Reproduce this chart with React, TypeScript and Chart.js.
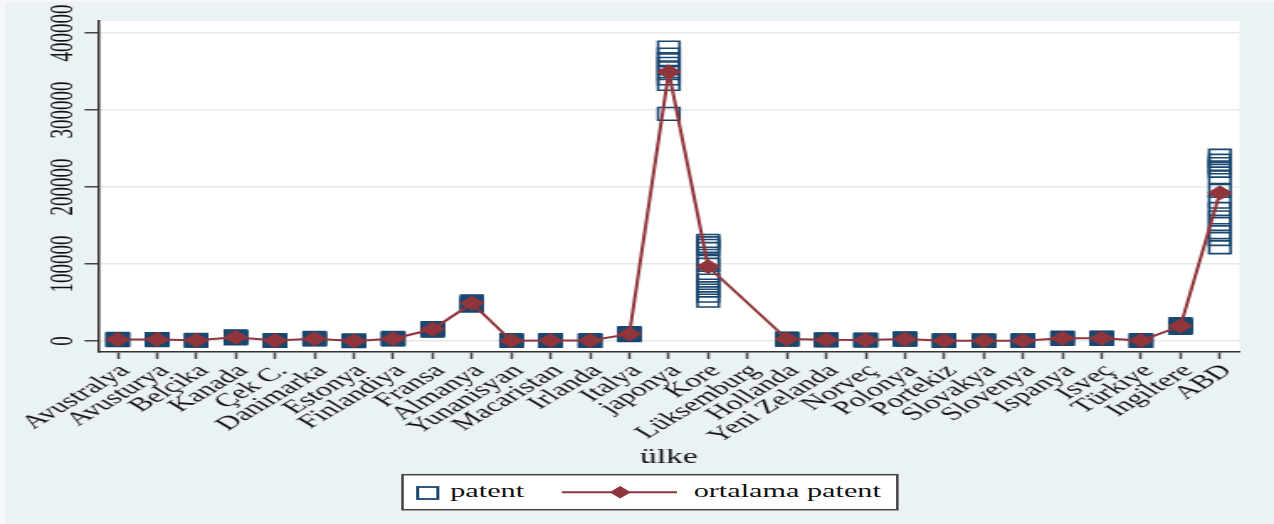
import React, { useEffect, useRef } from 'react';
import { Chart, registerables } from 'chart.js';

Chart.register(...registerables);

// ---------------- data ----------------
const countries = [
  'Avustralya', 'Avusturya', 'Belçika', 'Kanada', 'Çek C.', 'Danimarka', 'Estonya',
  'Finlandiya', 'Fransa', 'Almanya', 'Yunanisyan', 'Macaristan', 'Irlanda', 'Italya',
  'japonya', 'Kore', 'Lüksemburg', 'Hollanda', 'Yeni Zelanda', 'Norveç', 'Polonya',
  'Portekiz', 'Slovakya', 'Slovenya', 'Ispanya', 'Isveç', 'Türkiye', 'Ingiltere', 'ABD',
];

const meanPatent: (number | null)[] = [
  2000, 2000, 1000, 4800, 500, 3000, 100,
  3000, 15200, 49000, 400, 600, 500, 9000,
  349500, 96500, null, 2500, 1500, 1200, 2500,
  300, 200, 300, 3500, 3500, 500, 19500, 192500,
];

const patentValues: number[][] = [
  [1100, 1500, 1900, 2300, 2700],
  [1300, 1700, 2000, 2300, 2500],
  [600, 800, 1000, 1200, 1400],
  [3500, 4200, 4800, 5300, 6100],
  [200, 300, 500, 600, 800],
  [2100, 2600, 3000, 3400, 3900],
  [30, 60, 100, 140, 170],
  [2000, 2600, 3100, 3500, 4000],
  [13500, 14200, 15000, 15900, 16800],
  [46000, 47500, 48800, 50200, 51500],
  [150, 250, 400, 500, 650],
  [300, 450, 600, 700, 850],
  [250, 400, 500, 600, 750],
  [7800, 8400, 9000, 9500, 10200],
  [381000, 372000, 366000, 360000, 354000, 348000, 341000, 334000, 295000],
  [130000, 127000, 123500, 119500, 104500, 99000, 85000, 78500, 72000, 65500, 59000, 52500],
  [],
  [1800, 2200, 2500, 2800, 3100],
  [900, 1200, 1500, 1800, 2100],
  [700, 1000, 1200, 1400, 1700],
  [1700, 2100, 2500, 2900, 3300],
  [100, 200, 300, 400, 500],
  [80, 150, 200, 260, 330],
  [150, 220, 300, 380, 450],
  [2800, 3200, 3500, 3800, 4200],
  [2700, 3100, 3500, 3900, 4300],
  [200, 350, 500, 650, 800],
  [17000, 18200, 19500, 20800, 22000],
  [240600, 234100, 229800, 225500, 221100, 212600, 195000, 180900, 171400, 160600, 151900, 141200, 132500, 121700],
];

const yTickValues = [0, 100000, 200000, 300000, 400000];
const yMin = -14300;
const yMax = 415600;
const xTitle = 'ülke';
const legendLabels = ['patent', 'ortalama patent'];

// ---------------- style ----------------
const W = 758;
const H = 524;
const STRETCH = 1274 / W;
const NAVY = '#1A476F';
const MAROON = '#90353B';
const BG = '#EAF2F3';
const FONT = '"Liberation Serif", "Times New Roman", serif';

export default function App() {
  const ref = useRef<HTMLCanvasElement>(null);

  useEffect(() => {
    document.body.style.margin = '0';
    document.body.style.overflow = 'hidden';
    const canvas = ref.current;
    if (!canvas) return;

    const spread = patentValues.map((v) => (v.length ? Math.max(...v) - Math.min(...v) : 0));
    const points = patentValues.flatMap((vals, i) => vals.map((v) => ({ x: countries[i], y: v, c: i })));

    const decor = {
      id: 'stataDecor',
      beforeDraw(chart: any) {
        const { ctx, chartArea: a } = chart;
        ctx.save();
        ctx.fillStyle = '#ffffff';
        ctx.fillRect(a.left, a.top, a.right - a.left, a.bottom - a.top);
        ctx.restore();
      },
      afterDraw(chart: any) {
        const { ctx, chartArea: a, scales } = chart;
        ctx.save();
        ctx.fillStyle = '#111';
        ctx.font = `19px ${FONT}`;
        ctx.textAlign = 'center';
        ctx.textBaseline = 'alphabetic';
        yTickValues.forEach((v) => {
          const py = scales.y.getPixelForValue(v);
          ctx.save();
          ctx.translate(a.left - 15.6, py);
          ctx.rotate(-Math.PI / 2);
          ctx.fillText(String(v), 0, 0);
          ctx.restore();
        });
        ctx.font = `20px ${FONT}`;
        ctx.fillText(xTitle, (a.left + a.right) / 2, 463);
        ctx.restore();
      },
    };

    const chart = new Chart(canvas, {
      type: 'line',
      data: {
        labels: countries,
        datasets: [
          {
            type: 'line',
            label: legendLabels[1],
            data: meanPatent,
            borderColor: MAROON,
            backgroundColor: MAROON,
            borderWidth: 2,
            pointStyle: 'rectRot',
            pointRadius: 7,
            pointBorderWidth: 1,
            pointBackgroundColor: MAROON,
            pointBorderColor: MAROON,
            spanGaps: true,
            tension: 0,
            order: 0,
          } as any,
          {
            type: 'line',
            label: legendLabels[0],
            data: points as any,
            showLine: false,
            pointStyle: 'rect',
            pointRadius: 9,
            pointBorderWidth: 1.6,
            pointBorderColor: NAVY,
            pointBackgroundColor: (c: any) => {
              const raw = c.raw as any;
              if (!raw) return 'rgba(0,0,0,0)';
              return spread[raw.c] < 10000 ? NAVY : 'rgba(0,0,0,0)';
            },
            order: 1,
          } as any,
        ],
      },
      options: {
        animation: false,
        responsive: true,
        maintainAspectRatio: false,
        layout: { padding: { top: 21, right: W - 737.5, left: 0, bottom: 0 } },
        plugins: { legend: { display: false }, tooltip: { enabled: false } },
        events: [],
        scales: {
          x: {
            type: 'category',
            offset: true,
            grid: {
              display: true,
              drawOnChartArea: false,
              drawTicks: true,
              tickLength: 7,
              tickColor: '#444',
              tickWidth: 1.5,
              offset: false,
            },
            border: { display: true, color: '#333', width: 1.5 },
            ticks: {
              autoSkip: false,
              minRotation: 45,
              maxRotation: 45,
              color: '#111',
              font: { family: FONT, size: 19 },
              padding: 1,
              labelOffset: 4.5,
            },
            afterFit: (s: any) => {
              s.height = H - 352;
            },
          } as any,
          y: {
            type: 'linear',
            min: yMin,
            max: yMax,
            afterBuildTicks: (s: any) => {
              s.ticks = yTickValues.map((v) => ({ value: v }));
            },
            grid: {
              color: '#e2eaec',
              lineWidth: 1.5,
              tickLength: 8,
              tickColor: '#444',
              tickWidth: 1.5,
              drawTicks: true,
            },
            border: { display: true, color: '#333', width: 1.5 },
            ticks: { display: false },
            afterFit: (s: any) => {
              s.width = 58.3;
            },
          } as any,
        },
      },
      plugins: [decor],
    });

    return () => chart.destroy();
  }, []);

  return (
    <div
      style={{
        position: 'relative',
        width: W,
        height: H,
        transform: `scaleX(${STRETCH})`,
        transformOrigin: '0 0',
        background: '#f5f8f9',
        overflow: 'hidden',
      }}
    >
      <div style={{ position: 'absolute', left: 3, top: 2, right: 0, bottom: 0, background: BG }} />
      <div style={{ position: 'absolute', left: 0, top: 0, width: W, height: H }}>
        <canvas ref={ref} />
      </div>
      <svg
        width={W}
        height={H}
        style={{ position: 'absolute', left: 0, top: 0, pointerEvents: 'none' }}
      >
        <rect x={239.5} y={474.7} width={294.4} height={35} fill="#fff" stroke="#444" strokeWidth={1.5} />
        <rect x={248.5} y={487} width={12} height={12} fill="none" stroke={NAVY} strokeWidth={1.8} />
        <text x={267.9} y={497} fontFamily={FONT} fontSize={18} fill="#111">
          {legendLabels[0]}
        </text>
        <line x1={334.3} y1={492.3} x2={402.8} y2={492.3} stroke={MAROON} strokeWidth={2} />
        <polygon
          points={`${369 - 6.3},492.3 369,${492.3 - 6.3} ${369 + 6.3},492.3 369,${492.3 + 6.3}`}
          fill={MAROON}
        />
        <text x={412.7} y={497} fontFamily={FONT} fontSize={18} fill="#111">
          {legendLabels[1]}
        </text>
      </svg>
    </div>
  );
}
